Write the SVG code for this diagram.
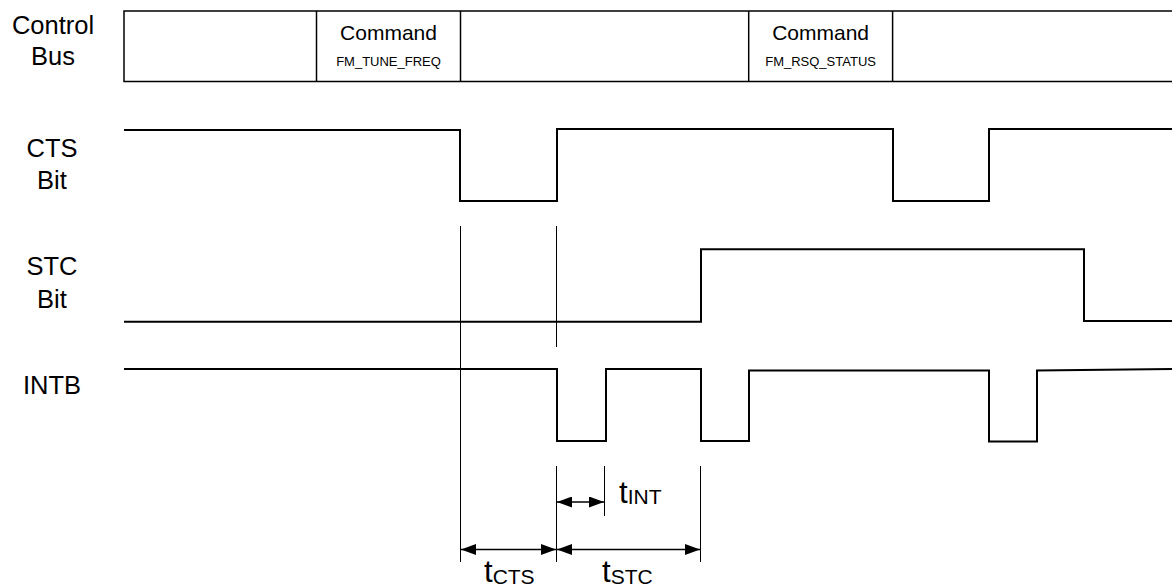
<svg xmlns="http://www.w3.org/2000/svg" width="1172" height="588" viewBox="0 0 1172 588">
<style>
.lbl{font-family:"Liberation Sans",Arial,sans-serif;font-size:25.5px;fill:#000;text-anchor:middle}
.cmd{font-family:"Liberation Sans",Arial,sans-serif;font-size:21px;fill:#000;text-anchor:middle}
.cmdsub{font-family:"Liberation Sans",Arial,sans-serif;font-size:13px;fill:#000;text-anchor:middle}
.tm{font-family:"Liberation Sans",Arial,sans-serif;font-size:31px;fill:#000}
.sub{font-size:21px}
.sig{fill:none;stroke:#000;stroke-width:2}
.box{fill:none;stroke:#000;stroke-width:1.5}
.guide{fill:none;stroke:#000;stroke-width:1}
.dim{fill:none;stroke:#000;stroke-width:1.3;marker-start:url(#ah);marker-end:url(#ah)}
</style>
<defs>
<marker id="ah" viewBox="0 0 15 11" refX="15" refY="5.5" markerWidth="15" markerHeight="11" markerUnits="userSpaceOnUse" orient="auto-start-reverse">
<path d="M0,0 L15,5.5 L0,11 Z" fill="#000"/>
</marker>
</defs>
<rect width="1172" height="588" fill="#fff"/>

<g id="labels">
<text class="lbl" x="53" y="34">Control</text>
<text class="lbl" x="53" y="65">Bus</text>
<text class="lbl" x="52" y="157">CTS</text>
<text class="lbl" x="52" y="189">Bit</text>
<text class="lbl" x="52" y="275">STC</text>
<text class="lbl" x="52" y="308">Bit</text>
<text class="lbl" x="52" y="394">INTB</text>
</g>

<g id="control-bus">
<path class="box" d="M1172,11 H124 V81.5 H1172"/>
<line class="box" x1="316.5" y1="11" x2="316.5" y2="81.5"/>
<line class="box" x1="460.5" y1="11" x2="460.5" y2="81.5"/>
<line class="box" x1="748.7" y1="11" x2="748.7" y2="81.5"/>
<line class="box" x1="892.6" y1="11" x2="892.6" y2="81.5"/>
<g id="cmd1">
<text class="cmd" x="388.5" y="39.5">Command</text>
<text class="cmdsub" x="388.5" y="65.5">FM_TUNE_FREQ</text>
</g>
<g id="cmd2">
<text class="cmd" x="820.6" y="39.5">Command</text>
<text class="cmdsub" x="820.6" y="65.5">FM_RSQ_STATUS</text>
</g>
</g>

<g id="cts-signal">
<path class="sig" d="M124,130 H460 V201 H557 V129 H893 V201 H989 V129 H1172"/>
</g>
<g id="stc-signal">
<path class="sig" d="M124,321.7 H701 V249.3 H1084 V321 H1172"/>
</g>
<g id="intb-signal">
<path class="sig" d="M124,369 H557 V441 H606 V369 H701 V441 H749 V370.5 H989 V441.5 H1037 V370.5 L1172,369"/>
</g>

<g id="connectors">
<line class="guide" x1="460.5" y1="226" x2="460.5" y2="562"/>
<line class="guide" x1="556.5" y1="226" x2="556.5" y2="347"/>
<line class="guide" x1="556.5" y1="466" x2="556.5" y2="562"/>
<line class="guide" x1="604.5" y1="466" x2="604.5" y2="516"/>
<line class="guide" x1="700.5" y1="466" x2="700.5" y2="562"/>
<line class="dim" x1="557" y1="502" x2="604" y2="502"/>
<line class="dim" x1="461" y1="549.5" x2="556" y2="549.5"/>
<line class="dim" x1="557" y1="549.5" x2="700" y2="549.5"/>
</g>

<g id="timing-labels">
<text class="tm" x="619" y="503">t<tspan class="sub" dy="1">INT</tspan></text>
<text class="tm" x="484" y="582">t<tspan class="sub" dy="2">CTS</tspan></text>
<text class="tm" x="602" y="582">t<tspan class="sub" dy="2">STC</tspan></text>
</g>
</svg>
